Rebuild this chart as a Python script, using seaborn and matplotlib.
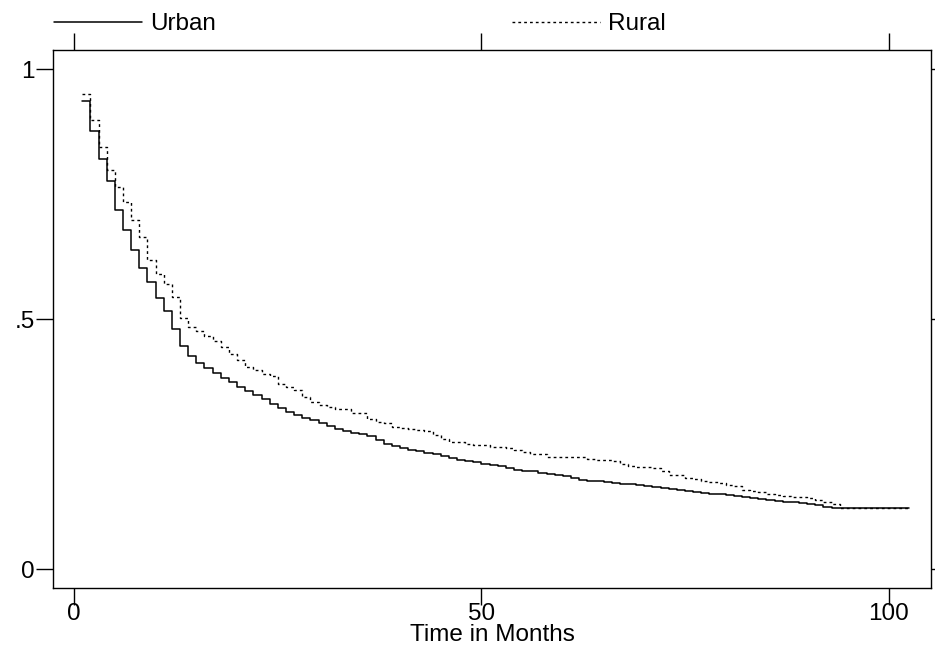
import matplotlib
matplotlib.use("Agg")
import matplotlib.pyplot as plt
from matplotlib.lines import Line2D
import pandas as pd
import seaborn as sns

# survival estimates, one value per month (step holds until next month)
MONTHS = list(range(1, 103))
END_MONTH = 102.5

URBAN = [
    0.937, 0.877, 0.821, 0.776, 0.718, 0.678, 0.639, 0.603, 0.575, 0.543,
    0.516, 0.480, 0.447, 0.427, 0.413, 0.403, 0.393, 0.382, 0.374, 0.365,
    0.357, 0.348, 0.340, 0.331, 0.323, 0.315, 0.308, 0.303, 0.299, 0.293,
    0.286, 0.281, 0.277, 0.273, 0.270, 0.266, 0.258, 0.251, 0.246, 0.243,
    0.239, 0.237, 0.233, 0.230, 0.226, 0.223, 0.219, 0.217, 0.215, 0.211,
    0.208, 0.206, 0.203, 0.199, 0.197, 0.196, 0.193, 0.191, 0.189, 0.186,
    0.183, 0.179, 0.177, 0.176, 0.175, 0.172, 0.171, 0.170, 0.168, 0.166,
    0.165, 0.162, 0.160, 0.159, 0.157, 0.155, 0.153, 0.151, 0.150, 0.148,
    0.147, 0.145, 0.143, 0.141, 0.139, 0.137, 0.135, 0.134, 0.132, 0.130,
    0.128, 0.125, 0.123, 0.123, 0.123, 0.123, 0.123, 0.123, 0.123, 0.123,
    0.123, 0.123,
]

RURAL = [
    0.950, 0.899, 0.845, 0.798, 0.765, 0.735, 0.698, 0.665, 0.618, 0.591,
    0.571, 0.545, 0.502, 0.485, 0.477, 0.466, 0.456, 0.445, 0.431, 0.418,
    0.405, 0.398, 0.391, 0.386, 0.370, 0.365, 0.359, 0.345, 0.335, 0.328,
    0.325, 0.321, 0.320, 0.313, 0.312, 0.301, 0.295, 0.293, 0.285, 0.283,
    0.281, 0.278, 0.277, 0.268, 0.261, 0.255, 0.255, 0.250, 0.249, 0.249,
    0.245, 0.245, 0.242, 0.238, 0.235, 0.231, 0.231, 0.225, 0.225, 0.225,
    0.225, 0.224, 0.220, 0.219, 0.219, 0.217, 0.211, 0.207, 0.205, 0.205,
    0.203, 0.196, 0.188, 0.188, 0.183, 0.180, 0.176, 0.174, 0.172, 0.168,
    0.166, 0.158, 0.156, 0.155, 0.150, 0.148, 0.146, 0.145, 0.144, 0.142,
    0.138, 0.134, 0.130, 0.123, 0.123, 0.123, 0.123, 0.123, 0.123, 0.123,
    0.123, 0.123,
]

X_TICKS = [0, 50, 100]
Y_TICKS = [0, 0.5, 1]
Y_LABELS = ["0", ".5", "1"]
X_TITLE = "Time in Months"

sns.set_theme(style="ticks")
plt.rcParams["font.family"] = ["Liberation Sans Narrow", "Liberation Sans", "DejaVu Sans"]
plt.rcParams.update({"text.color": "black", "axes.labelcolor": "black",
                     "xtick.color": "black", "ytick.color": "black"})
FS = 17.5

frames = []
for name, vals in (("Urban", URBAN), ("Rural", RURAL)):
    t = MONTHS + [END_MONTH]
    s = vals + [vals[-1]]
    frames.append(pd.DataFrame({"month": t, "surv": s, "area": name}))
df = pd.concat(frames, ignore_index=True)

fig = plt.figure(figsize=(9.35, 6.49), dpi=100)
ax = fig.add_axes([53 / 935, 1 - 588 / 649, (931 - 53) / 935, (588 - 50) / 649])

sns.lineplot(data=df[df.area == "Urban"], x="month", y="surv", color="black",
             lw=1.1, drawstyle="steps-post", estimator=None, ax=ax)
sns.lineplot(data=df[df.area == "Rural"], x="month", y="surv", color="black",
             lw=1.0, drawstyle="steps-post", estimator=None, dashes=False, ax=ax,
             linestyle=(0, (2.0, 2.2)))

ax.set_xlim(-2.6, 105.2)
ax.set_ylim(-0.038, 1.038)
ax.set_xticks(X_TICKS)
ax.set_yticks(Y_TICKS, labels=Y_LABELS)
ax.set_xlabel(X_TITLE, fontsize=FS, labelpad=-1)
ax.set_ylabel("")
ax.tick_params(axis="x", pad=-1)
ax.tick_params(axis="y", pad=1)
ax.tick_params(axis="both", direction="out", length=12, width=1, color="black",
               labelsize=FS, top=True, right=True, labeltop=False, labelright=False)
for sp in ax.spines.values():
    sp.set_linewidth(1.0)
    sp.set_color("black")
ax.grid(False)

handles = [
    Line2D([], [], color="black", lw=1.1),
    Line2D([], [], color="black", lw=1.0, linestyle=(0, (2.0, 2.2))),
]
fig.legend(handles, ["Urban", "Rural"], loc="center left", ncol=2, frameon=False,
           bbox_to_anchor=(54 / 935, 1 - 24 / 649), fontsize=FS, borderpad=0,
           borderaxespad=0, handlelength=3.6, handletextpad=0.35, columnspacing=12.2)

fig.savefig("out.png", dpi=100)
